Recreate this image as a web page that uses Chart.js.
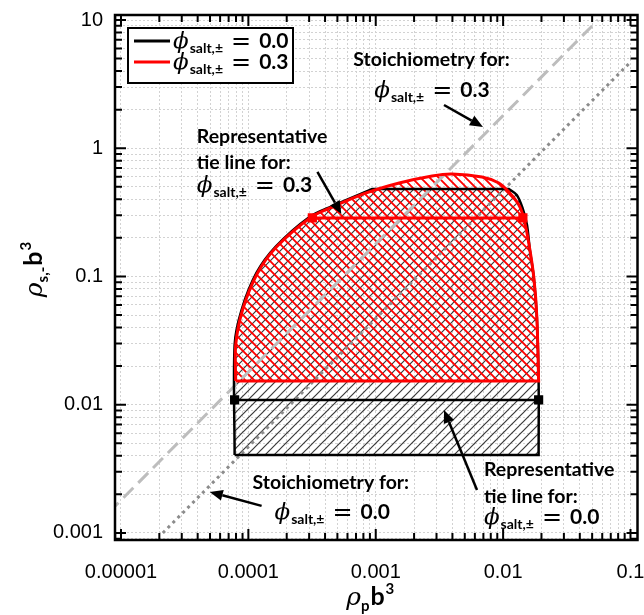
<!DOCTYPE html>
<html><head><meta charset="utf-8">
<script src="https://cdn.jsdelivr.net/npm/chart.js@4/dist/chart.umd.min.js"></script>
<style>html,body{margin:0;padding:0;background:#fff}#wrap{width:644px;height:615px;position:relative}</style>
</head><body><div id="wrap"><canvas id="c"></canvas></div>
<script>
// ---------- axis ticks ----------
const xTickValues = [1e-5, 1e-4, 1e-3, 1e-2, 1e-1];
const xTickLabels = ['0.00001', '0.0001', '0.001', '0.01', '0.1'];
const yTickValues = [1e-3, 1e-2, 1e-1, 1, 10];
const yTickLabels = ['0.001', '0.01', '0.1', '1', '10'];
// log10 range of the framed box (slightly wider than the decades)
const xLogRange = [-5.047, -0.945];
const yLogRange = [-3.055, 1.039];

// ---------- series ----------
const seriesLabels = ['0.0', '0.3'];
// phase envelope, phi_salt = 0.0 (black)
const env0X = [7.8e-5, 7.8e-5, 7.8e-5, 8.85e-5, 1.16e-4, 1.64e-4, 3.0e-4, 4.5e-4, 9.4e-4, 9.4e-4, 3.0e-3, 1.11e-2, 1.11e-2, 1.28e-2, 1.42e-2, 1.54e-2, 1.62e-2, 1.74e-2, 1.84e-2, 1.90e-2, 1.90e-2, 1.90e-2, 7.8e-5, 7.8e-5];
const env0Y = [0.00406, 0.00406, 0.0292, 0.055, 0.107, 0.171, 0.29, 0.352, 0.481, 0.481, 0.481, 0.481, 0.481, 0.432, 0.342, 0.252, 0.162, 0.099, 0.0483, 0.0153, 0.00406, 0.00406, 0.00406, 0.00406];
// phase envelope, phi_salt = 0.3 (red)
const env3X = [7.95e-5, 7.95e-5, 7.95e-5, 9.0e-5, 1.18e-4, 1.66e-4, 3.1e-4, 4.56e-4, 8.43e-4, 1.53e-3, 2.77e-3, 3.97e-3, 6.82e-3, 9.26e-3, 1.11e-2, 1.33e-2, 1.45e-2, 1.59e-2, 1.74e-2, 1.84e-2, 1.90e-2, 1.90e-2, 7.95e-5, 7.95e-5];
const env3Y = [0.0153, 0.0153, 0.0292, 0.0548, 0.1065, 0.170, 0.29, 0.348, 0.448, 0.536, 0.608, 0.630, 0.597, 0.536, 0.456, 0.361, 0.286, 0.1825, 0.0991, 0.0483, 0.0153, 0.0153, 0.0153, 0.0153];
// representative tie lines
const tie0X = [7.8e-5, 1.9e-2];
const tie0Y = [0.0109, 0.0109];
const tie3X = [3.18e-4, 1.43e-2];
const tie3Y = [0.286, 0.286];
// stoichiometry lines
const stoich3X = [8e-6, 0.0556];
const stoich3Y = [0.00144, 10];
const stoich0X = [2.13e-5, 0.1];
const stoich0Y = [0.001, 4.7];

// ---------- annotations (log10 coords) ----------
const notes = [
  {kind: 'text', t: 'Stoichiometry for:', lx: -3.176, ly: 0.641},
  {kind: 'phi', v: '0.3', lx: -3.012, ly: 0.400},
  {kind: 'text', t: 'Representative', lx: -4.405, ly: 0.041},
  {kind: 'text', t: 'tie line for:', lx: -4.405, ly: -0.162},
  {kind: 'phi', v: '0.3', lx: -4.405, ly: -0.341},
  {kind: 'text', t: 'Stoichiometry for:', lx: -3.967, ly: -2.657},
  {kind: 'phi', v: '0.0', lx: -3.795, ly: -2.891},
  {kind: 'text', t: 'Representative', lx: -2.151, ly: -2.556},
  {kind: 'text', t: 'tie line for:', lx: -2.151, ly: -2.766},
  {kind: 'phi', v: '0.0', lx: -2.151, ly: -2.930}
];
const arrows = [
  {from: [-2.464, 0.337], to: [-2.158, 0.166]},
  {from: [-3.458, -0.185], to: [-3.270, -0.513]},
  {from: [-3.896, -2.789], to: [-4.303, -2.680]},
  {from: [-2.205, -2.665], to: [-2.464, -2.041]}
];

const zip = (xs, ys) => xs.map((x, i) => ({x, y: ys[i]}));

function hatch(color, width, dir) {
  const n = 9, c = document.createElement('canvas');
  c.width = n; c.height = n;
  const g = c.getContext('2d');
  g.strokeStyle = color; g.lineWidth = width; g.lineCap = 'square';
  g.beginPath();
  if (dir === '/') {
    g.moveTo(0, n); g.lineTo(n, 0);
    g.moveTo(-n, n); g.lineTo(n, -n);
    g.moveTo(0, 2 * n); g.lineTo(2 * n, 0);
  } else {
    g.moveTo(0, 0); g.lineTo(n, n);
    g.moveTo(-n, 0); g.lineTo(n, 2 * n);
    g.moveTo(0, -n); g.lineTo(2 * n, n);
  }
  g.stroke();
  return g.createPattern(c, 'repeat');
}

function buildTicks(decades) {
  return function (scale) {
    const out = [];
    const lo = scale.min, hi = scale.max;
    const first = decades[0] / 10;
    for (let d = first; d <= decades[decades.length - 1] * 10; d *= 10) {
      for (let m = 1; m <= 9; m++) {
        const v = m * d;
        if (v >= lo && v <= hi) out.push({value: v});
      }
    }
    scale.ticks = out;
  };
}
function idxOf(v, arr) {
  return arr.findIndex(a => Math.abs(Math.log10(a) - Math.log10(v)) < 1e-6);
}
function labeler(vals, labels) {
  return function (value) {
    const i = idxOf(value, vals);
    return i >= 0 ? labels[i] : '';
  };
}

const SERIF_I = 'italic 23px "DejaVu Serif"';
function phiParts(v) {
  return [
    {t: 'ϕ', f: SERIF_I, gap: 1},
    {t: 'salt,±', f: 'bold 14px Lato', dy: 5, gap: 8},
    {t: '=', f: '24px "DejaVu Sans"', dy: 1, gap: 8},
    {t: v, f: 'bold 21px Lato'}
  ];
}
function richWidth(ctx, parts) {
  let w = 0;
  for (const p of parts) { ctx.font = p.f; w += ctx.measureText(p.t).width + (p.gap || 0); }
  return w;
}
function drawRich(ctx, parts, x, y) {
  let cx = x;
  for (const p of parts) {
    ctx.font = p.f;
    ctx.fillText(p.t, cx, y + (p.dy || 0));
    cx += ctx.measureText(p.t).width + (p.gap || 0);
  }
}

const deco = {
  id: 'deco',
  afterDatasetsDraw(chart) {
    const {ctx, chartArea: a, scales: {x, y}} = chart;
    const X = lx => x.getPixelForValue(Math.pow(10, lx));
    const Y = ly => y.getPixelForValue(Math.pow(10, ly));
    ctx.save();
    // frame
    ctx.strokeStyle = '#000';
    ctx.lineWidth = 2.5;
    ctx.strokeRect(a.left, a.top, a.right - a.left, a.bottom - a.top);
    // inward ticks
    ctx.lineWidth = 2;
    ctx.beginPath();
    for (const t of x.ticks) {
      const p = x.getPixelForValue(t.value);
      const len = idxOf(t.value, xTickValues) >= 0 ? 11 : 7;
      ctx.moveTo(p, a.bottom); ctx.lineTo(p, a.bottom - len);
      ctx.moveTo(p, a.top); ctx.lineTo(p, a.top + len);
    }
    for (const t of y.ticks) {
      const p = y.getPixelForValue(t.value);
      const len = idxOf(t.value, yTickValues) >= 0 ? 11 : 7;
      ctx.moveTo(a.left, p); ctx.lineTo(a.left + len, p);
      ctx.moveTo(a.right, p); ctx.lineTo(a.right - len, p);
    }
    ctx.stroke();

    // annotations
    ctx.fillStyle = '#000';
    ctx.textBaseline = 'alphabetic';
    ctx.textAlign = 'left';
    for (const n of notes) {
      if (n.kind === 'text') {
        ctx.font = 'bold 19.5px Lato';
        ctx.fillText(n.t, X(n.lx), Y(n.ly));
      } else {
        drawRich(ctx, phiParts(n.v), X(n.lx), Y(n.ly));
      }
    }
    // arrows
    ctx.strokeStyle = '#000';
    ctx.lineWidth = 2.5;
    for (const ar of arrows) {
      const x0 = X(ar.from[0]), y0 = Y(ar.from[1]), x1 = X(ar.to[0]), y1 = Y(ar.to[1]);
      const ang = Math.atan2(y1 - y0, x1 - x0), hl = 13, hw = 5.5;
      const bx = x1 - hl * Math.cos(ang), by = y1 - hl * Math.sin(ang);
      ctx.beginPath(); ctx.moveTo(x0, y0); ctx.lineTo(bx, by); ctx.stroke();
      ctx.beginPath();
      ctx.moveTo(x1, y1);
      ctx.lineTo(bx + hw * Math.sin(ang), by - hw * Math.cos(ang));
      ctx.lineTo(bx - hw * Math.sin(ang), by + hw * Math.cos(ang));
      ctx.closePath(); ctx.fill();
    }
    // legend
    const lx = a.left + 13, ly = a.top + 13, lw = 165, lh = 55;
    ctx.fillStyle = '#fff';
    ctx.fillRect(lx, ly, lw, lh);
    ctx.strokeStyle = '#000'; ctx.lineWidth = 2;
    ctx.strokeRect(lx, ly, lw, lh);
    const legendSets = [chart.data.datasets[4], chart.data.datasets[5]];
    legendSets.forEach((ds, i) => {
      const yy = ly + 13 + i * 21;
      ctx.strokeStyle = ds.borderColor; ctx.lineWidth = 3;
      ctx.beginPath(); ctx.moveTo(lx + 6, yy); ctx.lineTo(lx + 42, yy); ctx.stroke();
      ctx.fillStyle = '#000';
      drawRich(ctx, phiParts(ds.label), lx + 45, yy + 7);
    });
    ctx.restore();
  },
  afterDraw(chart) {
    const {ctx, chartArea: a} = chart;
    ctx.save();
    ctx.fillStyle = '#000';
    ctx.textBaseline = 'alphabetic';
    const xt = [
      {t: 'ρ', f: 'italic 25px "DejaVu Serif"', gap: 0},
      {t: 'p', f: 'bold 15px Lato', dy: 6, gap: 1},
      {t: 'b', f: 'bold 25px Lato', gap: 1},
      {t: '3', f: 'bold 15px Lato', dy: -11}
    ];
    const w = richWidth(ctx, xt);
    drawRich(ctx, xt, (a.left + a.right) / 2 - 6 - w / 2, 605);
    const yt = [
      {t: 'ρ', f: 'italic 25px "DejaVu Serif"', gap: 0},
      {t: 's,-', f: 'bold 15px Lato', dy: 6, gap: 1},
      {t: 'b', f: 'bold 25px Lato', gap: 1},
      {t: '3', f: 'bold 15px Lato', dy: -11}
    ];
    const wy = richWidth(ctx, yt);
    ctx.translate(42, (a.top + a.bottom) / 2 - 8);
    ctx.rotate(-Math.PI / 2);
    drawRich(ctx, yt, -wy / 2, 0);
    ctx.restore();
  }
};

const black = '#000000', red = '#ff0000';
const datasets = [
  {label: 'fill0', data: zip(env0X, env0Y), showLine: true, fill: 'shape', backgroundColor: hatch('#3a3a3a', 1.2, '/'), borderColor: 'transparent', pointRadius: 0, tension: 0.3, order: 10},
  {label: 'fill3', data: zip(env3X, env3Y), showLine: true, fill: 'shape', backgroundColor: hatch('#ff0000', 1.9, '\\'), borderColor: 'transparent', pointRadius: 0, tension: 0.3, order: 9},
  {label: 'stoich3', data: zip(stoich3X, stoich3Y), showLine: true, borderColor: '#bdbdbd', borderWidth: 3, borderDash: [14, 7], pointRadius: 0, order: 8},
  {label: 'stoich0', data: zip(stoich0X, stoich0Y), showLine: true, borderColor: '#8c8c8c', borderWidth: 3, borderDash: [3, 4], pointRadius: 0, order: 7},
  {label: seriesLabels[0], data: zip(env0X, env0Y), showLine: true, borderColor: black, borderWidth: 2.5, pointRadius: 0, tension: 0.3, order: 6},
  {label: seriesLabels[1], data: zip(env3X, env3Y), showLine: true, borderColor: red, borderWidth: 3, pointRadius: 0, tension: 0.3, order: 5},
  {label: 'tie0', data: zip(tie0X, tie0Y), showLine: true, borderColor: black, borderWidth: 2.5, pointStyle: 'rect', pointRadius: 6.5, pointBackgroundColor: black, pointBorderColor: black, pointBorderWidth: 0, order: 4},
  {label: 'tie3', data: zip(tie3X, tie3Y), showLine: true, borderColor: red, borderWidth: 3, pointStyle: 'rect', pointRadius: 6.5, pointBackgroundColor: red, pointBorderColor: red, pointBorderWidth: 0, order: 3}
];

const tickFont = {family: '"Liberation Sans", Arial, sans-serif', size: 20};
new Chart(document.getElementById('c'), {
  type: 'scatter',
  data: {datasets},
  options: {
    responsive: true, maintainAspectRatio: false, animation: false,
    layout: {padding: {top: 15, right: 5, left: 0, bottom: 0}},
    plugins: {legend: {display: false}, tooltip: {enabled: false}},
    scales: {
      x: {
        type: 'logarithmic',
        min: Math.pow(10, xLogRange[0]), max: Math.pow(10, xLogRange[1]),
        afterBuildTicks: buildTicks(xTickValues),
        afterFit(s) { s.height = 75; s.paddingLeft = 0; s.paddingRight = 0; },
        ticks: {autoSkip: false, maxRotation: 0, padding: 20, font: tickFont, color: '#000', callback: labeler(xTickValues, xTickLabels)},
        grid: {color: '#d2d2d2', lineWidth: 1, drawTicks: false},
        border: {display: false, dash: [2, 2]}
      },
      y: {
        type: 'logarithmic',
        min: Math.pow(10, yLogRange[0]), max: Math.pow(10, yLogRange[1]),
        afterBuildTicks: buildTicks(yTickValues),
        afterFit(s) { s.width = 115; s.paddingTop = 0; s.paddingBottom = 0; },
        ticks: {autoSkip: false, padding: 12, font: tickFont, color: '#000', callback: labeler(yTickValues, yTickLabels)},
        grid: {color: '#d2d2d2', lineWidth: 1, drawTicks: false},
        border: {display: false, dash: [2, 2]}
      }
    }
  },
  plugins: [deco]
});
</script></body></html>
